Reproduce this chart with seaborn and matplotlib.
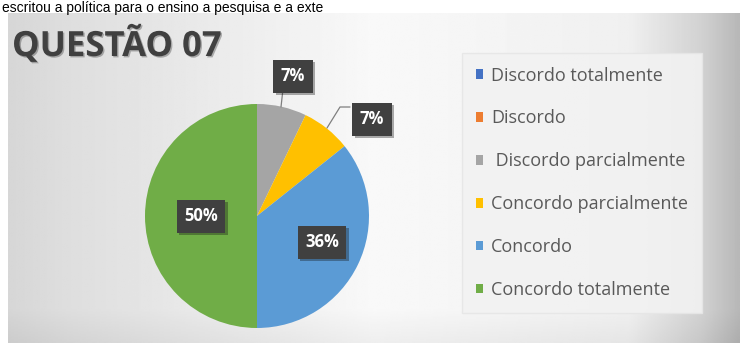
import numpy as np
import matplotlib
matplotlib.use('Agg')
import matplotlib.pyplot as plt
import matplotlib.patheffects as pe
import seaborn as sns

# data
categories = ['Discordo totalmente', 'Discordo', ' Discordo parcialmente',
              'Concordo parcialmente', 'Concordo', 'Concordo totalmente']
counts = [0, 0, 2, 2, 10, 14]
pct_labels = ['', '', '7%', '7%', '36%', '50%']
colors = ['#4472C4', '#ED7D31', '#A5A5A5', '#FFC000', '#5B9BD5', '#70AD47']
title = 'QUESTÃO 07'
top_text = 'escritou a política para o ensino a pesquisa e a exte'

sns.set_style('white')
plt.rcParams['font.family'] = ['Open Sans', 'DejaVu Sans']

W, H = 747, 343
fig = plt.figure(figsize=(W / 100, H / 100), dpi=100)

# background panel with soft gradient
bg = fig.add_axes([8 / W, 0, (740 - 8) / W, (H - 13) / H])
xs = np.linspace(0, 1, 400)
grad = np.interp(xs, [0, 0.08, 0.5, 0.85, 0.95, 1.0], [0.84, 0.87, 0.975, 0.94, 0.82, 0.72])
ys = np.linspace(0, 1, 200)
vgrad = np.interp(ys, [0, 0.9, 1.0], [0.0, 0.0, -0.04])
img = np.clip(grad[None, :] + vgrad[:, None], 0, 1)
bg.imshow(img, cmap='gray', vmin=0, vmax=1, aspect='auto', extent=[0, 1, 0, 1])
bg.axis('off')

# caption strip above the panel
fig.text(2 / W, 1 - 1 / H, top_text, fontsize=10, family='Liberation Sans',
         color='black', va='top', ha='left')

fig.text(12 / W, 1 - 56 / H, title, fontsize=25, fontweight='bold', color='#404040',
         va='baseline', ha='left',
         path_effects=[pe.withSimplePatchShadow(offset=(1, -1), alpha=0.3)])

# pie
cx, cy, r = 257, 216, 112
ax = fig.add_axes([(cx - r) / W, (H - cy - r) / H, 2 * r / W, 2 * r / H])
wedges, _ = ax.pie(counts, colors=colors, startangle=90, counterclock=False,
                   wedgeprops=dict(edgecolor='none'))
ax.set_xlim(-1, 1)
ax.set_ylim(-1, 1)
ax.set_aspect('equal')
ax.axis('off')

def to_data(px, py):
    return (px - cx) / r, (cy - py) / r

label_pos = {2: (293, 76), 3: (372, 119), 4: (322, 242), 5: (201, 216)}
for i, (px, py) in label_pos.items():
    x, y = to_data(px, py)
    t = ax.text(x, y, pct_labels[i], ha='center', va='center', fontsize=12,
                fontweight='bold', color='white', clip_on=False,
                bbox=dict(boxstyle='square,pad=0.45', facecolor='#404040', edgecolor='none'))
    t.get_bbox_patch().set_path_effects([pe.withSimplePatchShadow(offset=(2, -2), alpha=0.35)])

# leader lines
lx = [to_data(283, 89), to_data(281, 107)]
ax.plot([p[0] for p in lx], [p[1] for p in lx], color='#7f7f7f', lw=0.9, clip_on=False)
ly = [to_data(350, 107), to_data(340, 107), to_data(327, 128)]
ax.plot([p[0] for p in ly], [p[1] for p in ly], color='#7f7f7f', lw=0.9, clip_on=False)

# legend
leg = fig.legend(wedges, categories, loc='upper left',
                 bbox_to_anchor=(462 / W, 1 - 53 / H), frameon=True, fontsize=13,
                 labelcolor='#595959', handlelength=0.42, handleheight=0.42,
                 handletextpad=0.45, labelspacing=1.38, borderpad=0.75,
                 borderaxespad=0, fancybox=False)
leg.get_frame().set_facecolor('#f2f2f2')
leg.get_frame().set_edgecolor('#e6e6e6')
leg.get_frame().set_alpha(0.9)

fig.savefig('out.png', dpi=100)
